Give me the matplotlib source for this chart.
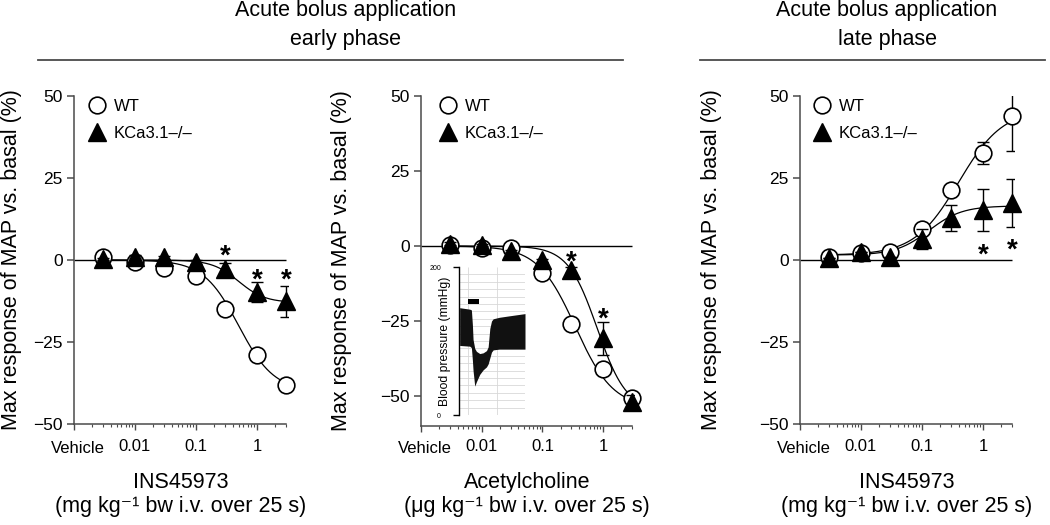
import numpy as np
import matplotlib
matplotlib.use("Agg")
import matplotlib.pyplot as plt
from matplotlib.lines import Line2D
from matplotlib.ticker import NullFormatter

plt.rcParams['font.family'] = ['Liberation Sans', 'DejaVu Sans']

# doses (vehicle plotted at 0.003)
dose = [0.003, 0.01, 0.03, 0.1, 0.3, 1, 3]

# INS45973, early phase
wt_early = [0.8, -0.7, -2.5, -5.0, -14.9, -29.1, -38.1]
wt_early_err = [0, 0, 0, 0, 0, 0, 0]
ko_early = [0.3, 1.0, 0.8, -0.5, -2.7, -9.7, -12.6]
ko_early_err = [0.4, 0.4, 0.4, 0.6, 1.8, 3.0, 4.8]

# Acetylcholine
wt_ach = [0.5, -0.8, -0.8, -8.9, -26.1, -41.1, -50.8]
wt_ach_err = [0, 0, 0, 0, 0, 0, 2.0]
ko_ach = [0.8, 0.3, -1.7, -4.7, -8.0, -30.8, -52.0]
ko_ach_err = [0.4, 0.4, 0.4, 0.5, 1.0, 5.5, 2.5]

# INS45973, late phase
wt_late = [0.8, 2.0, 2.5, 9.6, 21.4, 32.7, 44.0]
wt_late_err = [0, 0, 0, 0, 0, 3.3, 10.7]
ko_late = [0.5, 2.3, 0.8, 6.4, 12.8, 15.1, 17.4]
ko_late_err = [0, 0, 0, 3.0, 3.9, 6.4, 7.3]

# fitted sigmoid parameters: (start, end, ec50, hill)
fit_wt_early = (0, -40, 0.5, 1.5)
fit_ko_early = (0, -13, 0.5, 2.0)
fit_wt_ach = (0, -54, 0.35, 1.4)
fit_ko_ach = (0, -55, 0.8, 1.8)
fit_wt_late = (1.5, 46, 0.4, 1.2)
fit_ko_late = (1.5, 16.5, 0.13, 1.6)

# significance stars (dose, y)
stars_early = ([0.3, 1, 3], [3.7, -3.5, -3.5])
stars_ach = ([0.3, 1], [-2.4, -21.7])
stars_late = ([1, 3], [4.1, 5.6])

# inset blood pressure trace (time units, mmHg envelopes)
bp_t = [2, 32, 37, 40, 42, 47, 52, 62, 72, 82, 87, 92, 97, 102, 120, 150, 197]
bp_top = [145, 143, 142, 122, 102, 90, 86, 83, 84, 87, 92, 117, 127, 130, 132, 134, 137]
bp_bottom = [94, 93, 91, 74, 60, 39, 45, 55, 61, 65, 69, 77, 85, 88, 89, 89, 89]
bolus_t = [27, 59]

W, H = 1050, 525
fig = plt.figure(figsize=(10.5, 5.25), dpi=100)


def box(left, top, width, height):
    return [left / W, 1 - (top + height) / H, width / W, height / H]


def hill(x, p):
    y0, y1, ec50, h = p
    return y0 + (y1 - y0) / (1 + (ec50 / x) ** h)


spine_col = '#4a4a4a'


def panel(rect, ylim, wt, wt_err, ko, ko_err, fw, fk, stars, leg_x, tpad, ylab_x):
    ax = fig.add_axes(rect)
    ax.set_xscale('log')
    ax.set_xlim(0.001, 3.2)
    ax.set_ylim(*ylim)
    for s in ['top', 'right']:
        ax.spines[s].set_visible(False)
    for s in ['left', 'bottom']:
        ax.spines[s].set_color(spine_col)
        ax.spines[s].set_linewidth(1.1)
    ax.spines['bottom'].set_bounds(0.001, 3)
    ax.set_yticks([-50, -25, 0, 25, 50])
    ax.set_xticks([0.001, 0.01, 0.1, 1])
    ax.set_xticklabels(['', '0.01', '0.1', '1'])
    ax.xaxis.set_minor_formatter(NullFormatter())
    ax.tick_params(axis='y', direction='out', length=5, width=1.1, color=spine_col,
                   labelsize=12.5, pad=3)
    ax.tick_params(axis='x', which='major', direction='out', length=4, width=1,
                   color=spine_col, labelsize=12, pad=tpad)
    ax.tick_params(axis='x', which='minor', direction='out', length=2.5, width=0.8,
                   color=spine_col)
    ax.text(0.0032, 1 - 453 / H, 'Vehicle', ha='right', va='baseline', fontsize=12,
            transform=matplotlib.transforms.blended_transform_factory(ax.transData, fig.transFigure))
    ax.hlines(0, 0.001, 3, color='black', lw=1, zorder=1)

    xs = np.logspace(np.log10(0.003), np.log10(3), 300)
    ax.plot(xs, hill(xs, fw), color='black', lw=0.9, zorder=1.5)
    ax.plot(xs, hill(xs, fk), color='black', lw=0.9, zorder=1.5)

    ax.errorbar(dose, wt, yerr=wt_err, fmt='none', ecolor='black', elinewidth=1,
                capsize=4, capthick=1, zorder=2)
    h_wt, = ax.plot(dose, wt, 'o', ms=12, mfc='white', mec='black', mew=1.2,
                    clip_on=False, zorder=3, label='WT')
    ax.errorbar(dose, ko, yerr=ko_err, fmt='none', ecolor='black', elinewidth=1,
                capsize=4, capthick=1, zorder=4)
    h_ko, = ax.plot(dose, ko, '^', ms=12.5, mfc='black', mec='black', mew=1,
                    clip_on=False, zorder=5, label='KCa3.1\u2013/\u2013')

    for sx, sy in zip(*stars):
        ax.annotate('*', (sx, sy), xytext=(0, -11.5), textcoords='offset points',
                    ha='center', va='baseline', fontsize=20, fontweight='bold', zorder=6)

    ax.legend(handles=[h_wt, h_ko], loc='upper left', bbox_to_anchor=(leg_x, 0.99),
              frameon=False, fontsize=12, borderpad=0, borderaxespad=0,
              handlelength=1.0, handletextpad=0.5, labelspacing=0.7)
    ax.set_ylabel('Max response of MAP vs. basal (%)', fontsize=15.5)
    ax.yaxis.set_label_coords(ylab_x, 0.5)
    return ax


ax1 = panel(box(74, 96, 213.8, 328), (-50, 50), wt_early, wt_early_err, ko_early,
            ko_early_err, fit_wt_early, fit_ko_early, stars_early, 0.068, 6.5, -0.245)
ax2 = panel(box(421, 96, 212.8, 330), (-60, 50), wt_ach, wt_ach_err, ko_ach,
            ko_ach_err, fit_wt_ach, fit_ko_ach, stars_ach, 0.087, 5.2, -0.325)
ax3 = panel(box(800, 96, 213.8, 328), (-50, 50), wt_late, wt_late_err, ko_late,
            ko_late_err, fit_wt_late, fit_ko_late, stars_late, 0.064, 6.5, -0.365)

# x-axis titles
xl = [(180.5, 'INS45973', '(mg kg\u207b\u00b9 bw i.v. over 25 s)'),
      (527, 'Acetylcholine', '(\u03bcg kg\u207b\u00b9 bw i.v. over 25 s)'),
      (907, 'INS45973', '(mg kg\u207b\u00b9 bw i.v. over 25 s)')]
for cx, l1, l2 in xl:
    fig.text(cx / W, 1 - 488 / H, l1, ha='center', va='baseline', fontsize=15.5)
    fig.text(cx / W, 1 - 512 / H, l2, ha='center', va='baseline', fontsize=15.5)

# headers
fig.text(346 / W, 1 - 16 / H, 'Acute bolus application', ha='center', va='baseline', fontsize=15.5)
fig.text(346 / W, 1 - 45 / H, 'early phase', ha='center', va='baseline', fontsize=15.5)
fig.text(887 / W, 1 - 16 / H, 'Acute bolus application', ha='center', va='baseline', fontsize=15.5)
fig.text(887 / W, 1 - 45 / H, 'late phase', ha='center', va='baseline', fontsize=15.5)
fig.add_artist(Line2D([38 / W, 623 / W], [1 - 60 / H] * 2, color=spine_col, lw=1.3))
fig.add_artist(Line2D([700 / W, 1045 / W], [1 - 60 / H] * 2, color=spine_col, lw=1.3))

# inset: blood pressure trace
axi = fig.add_axes(box(459, 267, 66, 148))
axi.set_facecolor('white')
axi.set_xlim(0, 197)
axi.set_ylim(0, 200)
for s in ['top', 'right', 'bottom']:
    axi.spines[s].set_visible(False)
axi.spines['left'].set_linewidth(1)
axi.set_xticks([])
axi.set_yticks([0, 200])
axi.tick_params(axis='y', length=4, width=1, labelsize=5, pad=9)
axi.hlines(np.arange(10, 200, 10), 0, 197, color='#d8d8d8', lw=0.6, zorder=0)
axi.vlines([27, 114], 0, 200, color='#d8d8d8', lw=0.6, zorder=0)
axi.fill_between(bp_t, bp_bottom, bp_top, color='#111111', lw=0, zorder=2)
axi.fill_between(bolus_t, 150, 157, color='black', lw=0, zorder=2)
axi.set_ylabel('Blood pressure (mmHg)', fontsize=8.7)
axi.yaxis.set_label_coords(-0.12, 0.5)

plt.savefig('out.png', dpi=100)
